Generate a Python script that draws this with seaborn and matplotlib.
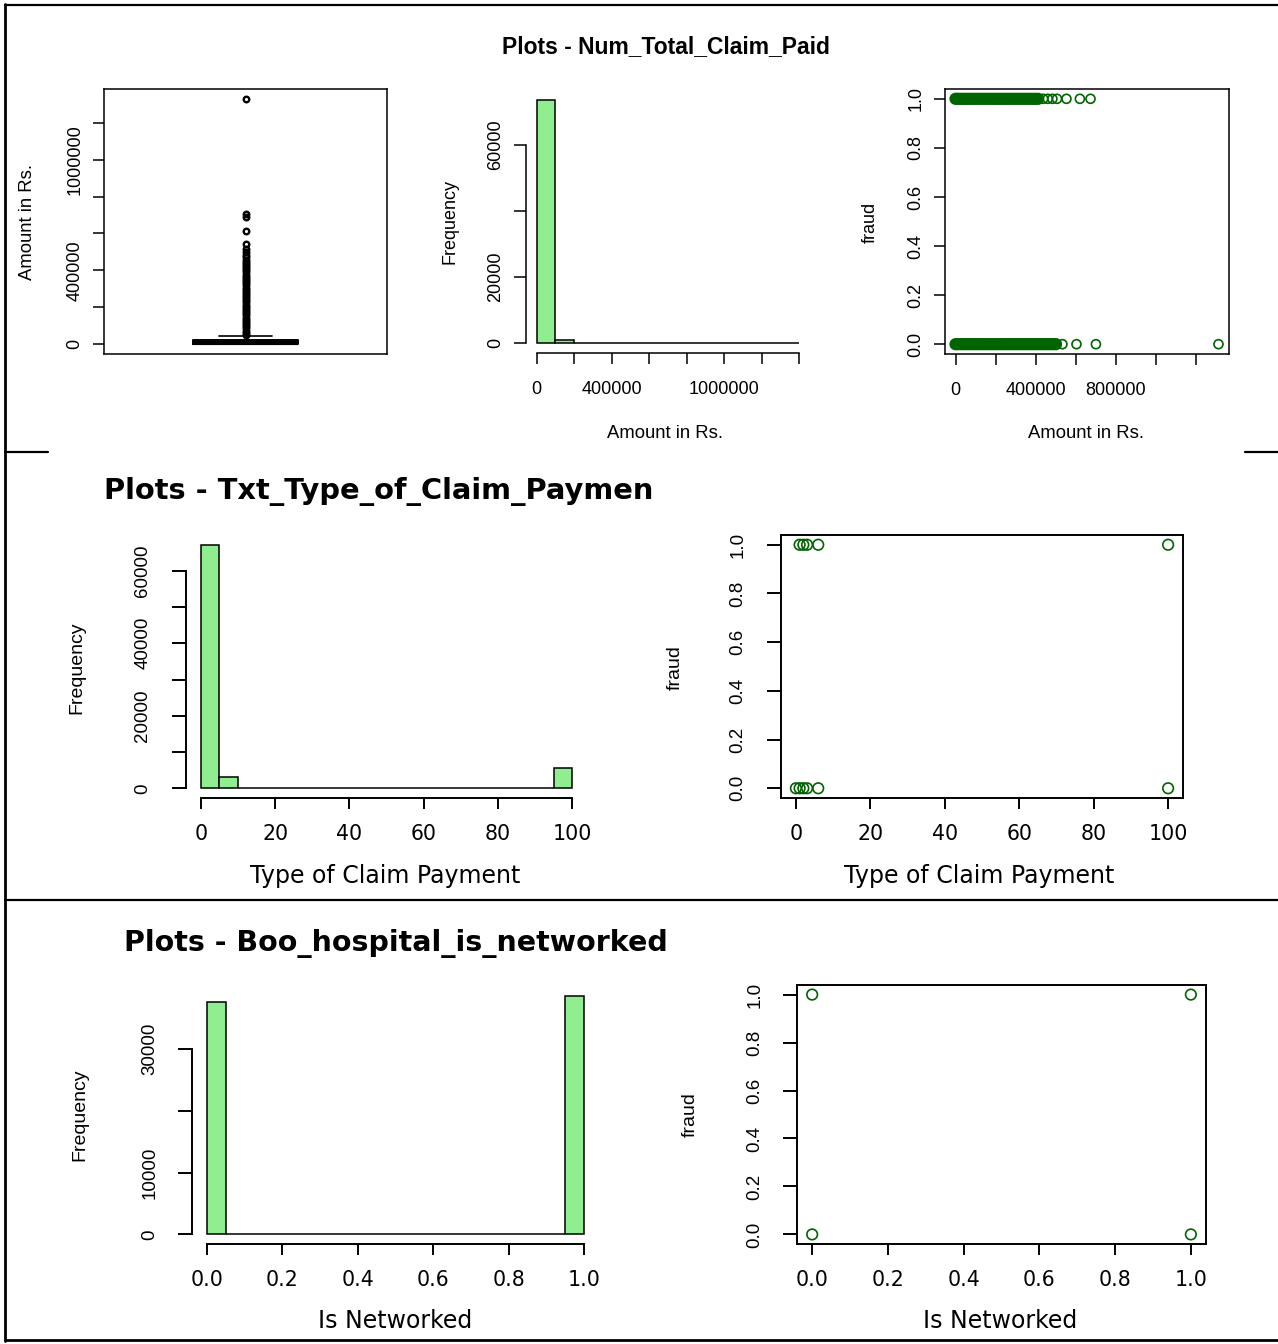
import matplotlib
matplotlib.use("Agg")
import matplotlib.pyplot as plt
from matplotlib.lines import Line2D
import pandas as pd
import seaborn as sns

# ---------------- data ----------------
title_row1 = "Plots - Num_Total_Claim_Paid"
title_row2 = "Plots - Txt_Type_of_Claim_Paymen"
title_row3 = "Plots - Boo_hospital_is_networked"

# Row 1 : Num_Total_Claim_Paid (boxplot summary)
box_q1 = 2000
box_median = 7000
box_q3 = 20000
box_whisker_low = 0
box_whisker_high = 47000
box_outliers = [52000, 63000, 74000, 86000, 97000, 109000, 121000, 132000, 144000,
                156000, 167000, 179000, 191000, 202000, 214000, 226000, 237000, 249000,
                261000, 272000, 284000, 296000, 307000, 319000, 331000, 342000, 354000,
                366000, 377000, 389000, 401000, 412000, 424000, 436000, 447000, 459000,
                470000, 484000, 500000, 515000, 545000, 612000, 690000, 708000, 1330000]
box_yticks = [0, 200000, 400000, 600000, 800000, 1000000, 1200000]
box_yticklabels = ["0", "", "400000", "", "", "1000000", ""]

# Row 1 histogram
amount_bin_edges = [0, 100000, 200000, 300000, 400000, 500000, 600000, 700000,
                    800000, 900000, 1000000, 1100000, 1200000, 1300000, 1400000]
amount_counts = [73600, 1050, 160, 45, 14, 5, 3, 2, 0, 0, 0, 0, 0, 1]
hist1_xticks = [0, 200000, 400000, 600000, 800000, 1000000, 1200000, 1400000]
hist1_xticklabels = ["0", "", "400000", "", "", "1000000", "", ""]
hist1_yticks = [0, 20000, 40000, 60000]
hist1_yticklabels = ["0", "20000", "", "60000"]

# Row 1 scatter (amount vs fraud): dense runs and isolated points
amount_fraud1_dense = [0, 9000, 21000, 34000, 46000, 58000, 71000, 84000, 96000, 109000,
                       121000, 134000, 147000, 159000, 172000, 185000, 197000, 210000, 222000,
                       235000, 248000, 260000, 273000, 286000, 298000, 311000, 323000, 336000,
                       349000, 361000, 374000, 387000, 399000, 412000]
amount_fraud1_sparse = [437000, 460000, 483000, 506000, 553000, 620000, 673000]
amount_fraud0_dense = [0, 10000, 22000, 35000, 47000, 60000, 72000, 85000, 98000, 110000,
                       123000, 135000, 148000, 161000, 173000, 186000, 198000, 211000, 224000,
                       236000, 249000, 261000, 274000, 287000, 299000, 312000, 324000, 337000,
                       350000, 362000, 375000, 387000, 400000, 413000, 425000, 438000, 450000,
                       463000, 476000, 488000, 501000]
amount_fraud0_sparse = [533000, 603000, 700000, 1311000]
sc1_xticks = [0, 200000, 400000, 600000, 800000, 1000000, 1200000]
sc1_xticklabels = ["0", "", "400000", "", "800000", "", ""]

fraud_ticks = [0.0, 0.2, 0.4, 0.6, 0.8, 1.0]
fraud_ticklabels = ["0.0", "0.2", "0.4", "0.6", "0.8", "1.0"]

# Row 2 : Txt_Type_of_Claim_Payment
claim_bin_edges = [0, 5, 10, 15, 20, 25, 30, 35, 40, 45, 50, 55, 60, 65, 70, 75, 80, 85, 90, 95, 100]
claim_counts = [67200, 3000, 0, 0, 0, 0, 0, 0, 0, 0, 0, 0, 0, 0, 0, 0, 0, 0, 0, 5500]
claim_xticks = [0, 20, 40, 60, 80, 100]
claim_xticklabels = ["0", "20", "40", "60", "80", "100"]
hist2_yticks = [0, 10000, 20000, 30000, 40000, 50000, 60000]
hist2_yticklabels = ["0", "", "20000", "", "40000", "", "60000"]
claim_fraud1 = [1, 2, 3, 6, 100]
claim_fraud0 = [0, 1, 2, 3, 6, 100]

# Row 3 : Boo_hospital_is_networked
net_bin_edges = [0.0, 0.05, 0.1, 0.15, 0.2, 0.25, 0.3, 0.35, 0.4, 0.45, 0.5,
                 0.55, 0.6, 0.65, 0.7, 0.75, 0.8, 0.85, 0.9, 0.95, 1.0]
net_counts = [37600, 0, 0, 0, 0, 0, 0, 0, 0, 0, 0, 0, 0, 0, 0, 0, 0, 0, 0, 38700]
net_xticks = [0.0, 0.2, 0.4, 0.6, 0.8, 1.0]
net_xticklabels = ["0.0", "0.2", "0.4", "0.6", "0.8", "1.0"]
hist3_yticks = [0, 10000, 20000, 30000]
hist3_yticklabels = ["0", "10000", "", "30000"]
net_fraud1 = [0, 1]
net_fraud0 = [0, 1]

# ---------------- style ----------------
sns.set_style("ticks")
plt.rcParams["font.family"] = ["Liberation Sans", "DejaVu Sans"]
plt.rcParams["axes.linewidth"] = 1.1
plt.rcParams["xtick.major.width"] = 1.1
plt.rcParams["ytick.major.width"] = 1.1
plt.rcParams["xtick.color"] = "black"
plt.rcParams["ytick.color"] = "black"
plt.rcParams["xtick.labelcolor"] = "black"
plt.rcParams["ytick.labelcolor"] = "black"
plt.rcParams["axes.edgecolor"] = "black"
plt.rcParams["text.color"] = "black"
plt.rcParams["axes.labelcolor"] = "black"

BAR = "#90EE90"
PT = "#006400"
WIDE = "DejaVu Sans"
NARROW = "Liberation Sans"

W, H = 1278, 1344
fig = plt.figure(figsize=(W / 100, H / 100), dpi=100)
fig.patch.set_facecolor("white")


def px_axes(box):
    x0, y0, x1, y1 = box
    return fig.add_axes([x0 / W, 1 - y1 / H, (x1 - x0) / W, (y1 - y0) / H])


def r_lim(lo, hi):
    d = (hi - lo) * 0.04
    return lo - d, hi + d


def centers(edges):
    return [(a + b) / 2 for a, b in zip(edges[:-1], edges[1:])]


def set_labels(ax, box, xlabel, xpos, ylabel, ypos, xfam, xsize, yfam, ysize):
    x0, y0, x1, y1 = box
    ax.set_xlabel(xlabel, fontsize=xsize, fontfamily=xfam, color="black")
    ax.xaxis.set_label_coords((xpos[0] - x0) / (x1 - x0), (y1 - xpos[1]) / (y1 - y0))
    ax.xaxis.label.set_va("center")
    ax.xaxis.label.set_ha("center")
    ax.set_ylabel(ylabel, fontsize=ysize, fontfamily=yfam, color="black")
    ax.yaxis.set_label_coords((ypos[0] - x0) / (x1 - x0), (y1 - ypos[1]) / (y1 - y0))
    ax.yaxis.label.set_va("center")
    ax.yaxis.label.set_ha("center")


def hist_panel(box, edges, counts, xticks, xtl, yticks, ytl, xfam, xts, yts, xpad, ypad,
               xlen, ylen, lw):
    ax = px_axes(box)
    sns.histplot(x=centers(edges), weights=counts, bins=edges, ax=ax,
                 color=BAR, edgecolor="black", linewidth=1.1, alpha=1.0)
    ax.set_xlim(*r_lim(edges[0], edges[-1]))
    ax.set_ylim(*r_lim(0, max(counts)))
    for s in ["top", "right"]:
        ax.spines[s].set_visible(False)
    for s in ["bottom", "left"]:
        ax.spines[s].set_linewidth(lw)
    ax.spines["bottom"].set_bounds(xticks[0], xticks[-1])
    ax.spines["left"].set_bounds(yticks[0], yticks[-1])
    ax.set_xticks(xticks)
    ax.set_xticklabels(xtl, fontfamily=xfam, fontsize=xts)
    ax.set_yticks(yticks)
    ax.set_yticklabels(ytl, rotation=90, va="center", fontfamily=NARROW, fontsize=yts)
    ax.tick_params(axis="x", direction="out", length=xlen, width=lw, pad=xpad, colors="black")
    ax.tick_params(axis="y", direction="out", length=ylen, width=lw, pad=ypad, colors="black")
    ax.grid(False)
    return ax


def scatter_panel(box, xs1, xs0, xticks, xtl, xfam, xts, yts, xpad, ypad, xlen, ylen, size,
                  lw, dense1=(), dense0=()):
    ax = px_axes(box)
    all_x = list(xs1) + list(xs0) + list(dense1) + list(dense0)
    if len(dense1) + len(dense0) > 0:
        dfd = pd.DataFrame({"x": list(dense1) + list(dense0),
                            "fraud": [1] * len(dense1) + [0] * len(dense0)})
        sns.scatterplot(data=dfd, x="x", y="fraud", ax=ax, s=size, color=PT)
        c = ax.collections[-1]
        c.set_facecolor("none")
        c.set_edgecolor(PT)
        c.set_linewidth(2.3)
    df = pd.DataFrame({"x": list(xs1) + list(xs0),
                       "fraud": [1] * len(xs1) + [0] * len(xs0)})
    sns.scatterplot(data=df, x="x", y="fraud", ax=ax, s=size, color=PT)
    coll = ax.collections[-1]
    coll.set_facecolor("none")
    coll.set_edgecolor(PT)
    coll.set_linewidth(1.2)
    ax.set_xlim(*r_lim(min(all_x), max(all_x)))
    ax.set_ylim(*r_lim(0, 1))
    ax.set_xticks(xticks)
    ax.set_xticklabels(xtl, fontfamily=xfam, fontsize=xts)
    ax.set_yticks(fraud_ticks)
    ax.set_yticklabels(fraud_ticklabels, rotation=90, va="center", fontfamily=NARROW, fontsize=yts)
    ax.tick_params(axis="x", direction="out", length=xlen, width=lw, pad=xpad, colors="black")
    ax.tick_params(axis="y", direction="out", length=ylen, width=lw, pad=ypad, colors="black")
    for s in ax.spines.values():
        s.set_visible(True)
        s.set_color("black")
        s.set_linewidth(lw)
    ax.grid(False)
    return ax


# ---------------- Row 1 ----------------
fig.text(666 / W, 1 - 47 / H, title_row1, ha="center", va="center",
         fontsize=16.5, fontweight="bold", fontfamily=NARROW)

b_box = (104, 89, 387, 354)
axb = px_axes(b_box)
stats = [dict(med=box_median, q1=box_q1, q3=box_q3, whislo=box_whisker_low,
              whishi=box_whisker_high, fliers=box_outliers)]
axb.bxp(stats, positions=[1], widths=0.4, capwidths=0.2, showfliers=True,
        boxprops=dict(color="black", linewidth=1.4),
        medianprops=dict(color="black", linewidth=3),
        whiskerprops=dict(color="black", linewidth=1.2, linestyle="--"),
        capprops=dict(color="black", linewidth=1.2),
        flierprops=dict(marker="o", markerfacecolor="none", markeredgecolor="black",
                        markersize=4.0, markeredgewidth=1.7))
axb.set_xlim(*r_lim(0.5, 1.5))
axb.set_ylim(*r_lim(min(box_whisker_low, min(box_outliers)), max(box_outliers)))
axb.set_xticks([])
axb.set_yticks(box_yticks)
axb.set_yticklabels(box_yticklabels, rotation=90, va="center", fontsize=13)
axb.tick_params(axis="y", direction="out", length=8, pad=7, colors="black")
for s in axb.spines.values():
    s.set_visible(True)
axb.set_ylabel("Amount in Rs.", fontsize=13.3)
axb.yaxis.set_label_coords((28 - 104) / 283, (354 - 222) / 265)
axb.yaxis.label.set_va("center")

b_h1 = (526, 90, 810, 353)
ax1 = hist_panel(b_h1, amount_bin_edges, amount_counts, hist1_xticks, hist1_xticklabels,
                 hist1_yticks, hist1_yticklabels, NARROW, 13, 13, 12.5, 7, 8, 9, 1.1)
set_labels(ax1, b_h1, "Amount in Rs.", (665, 433), "Frequency", (450, 222), NARROW, 13.3, NARROW, 13)

b_s1 = (945, 89, 1229, 354)
ax2 = scatter_panel(b_s1, amount_fraud1_sparse, amount_fraud0_sparse, sc1_xticks, sc1_xticklabels,
                    NARROW, 13, 13, 12.5, 7, 8, 8, 42, 1.1,
                    dense1=amount_fraud1_dense, dense0=amount_fraud0_dense)
set_labels(ax2, b_s1, "Amount in Rs.", (1086, 433), "fraud", (870, 222), NARROW, 13.3, NARROW, 13)

# ---------------- Row 2 ----------------
fig.text(104 / W, 1 - 492 / H, title_row2, ha="left", va="center",
         fontsize=20.8, fontweight="bold", fontfamily=WIDE)

b_h2 = (186, 535, 587, 798)
ax3 = hist_panel(b_h2, claim_bin_edges, claim_counts, claim_xticks, claim_xticklabels,
                 hist2_yticks, hist2_yticklabels, WIDE, 14.8, 13.5, 11, 15, 8, 10, 1.4)
set_labels(ax3, b_h2, "Type of Claim Payment", (385, 876), "Frequency", (77, 668), WIDE, 17, NARROW, 14)

b_s2 = (781, 535, 1183, 798)
ax4 = scatter_panel(b_s2, claim_fraud1, claim_fraud0, claim_xticks, claim_xticklabels,
                    WIDE, 14.8, 13.5, 11, 15, 8, 10, 58, 1.4)
set_labels(ax4, b_s2, "Type of Claim Payment", (979, 876), "fraud", (675, 668), WIDE, 17, NARROW, 14)

# ---------------- Row 3 ----------------
fig.text(124 / W, 1 - 943 / H, title_row3, ha="left", va="center",
         fontsize=20.5, fontweight="bold", fontfamily=WIDE)

b_h3 = (192, 986, 599, 1244)
ax5 = hist_panel(b_h3, net_bin_edges, net_counts, net_xticks, net_xticklabels,
                 hist3_yticks, hist3_yticklabels, WIDE, 14.8, 13.5, 11, 14, 8, 10, 1.4)
set_labels(ax5, b_h3, "Is Networked", (395, 1321), "Frequency", (80, 1115), WIDE, 17, NARROW, 14)

b_s3 = (797, 985, 1206, 1244)
ax6 = scatter_panel(b_s3, net_fraud1, net_fraud0, net_xticks, net_xticklabels,
                    WIDE, 14.8, 13.5, 11, 14, 8, 10, 58, 1.4)
set_labels(ax6, b_s3, "Is Networked", (1000, 1321), "fraud", (690, 1115), WIDE, 17, NARROW, 14)

# ---------------- table borders ----------------
def hline(y, x0, x1, lw=1.6):
    fig.add_artist(Line2D([x0 / W, x1 / W], [1 - y / H, 1 - y / H], color="black", linewidth=lw,
                          transform=fig.transFigure))


def vline(x, y0, y1, lw=2.0):
    fig.add_artist(Line2D([x / W, x / W], [1 - y0 / H, 1 - y1 / H], color="black", linewidth=lw,
                          transform=fig.transFigure))


hline(5, 5, 1278)
hline(452, 5, 48)
hline(452, 1245, 1278)
hline(900, 5, 1278)
hline(1340, 5, 1278, lw=2.0)
vline(5, 4, 1341)

fig.savefig("out.png", dpi=100, facecolor="white")
